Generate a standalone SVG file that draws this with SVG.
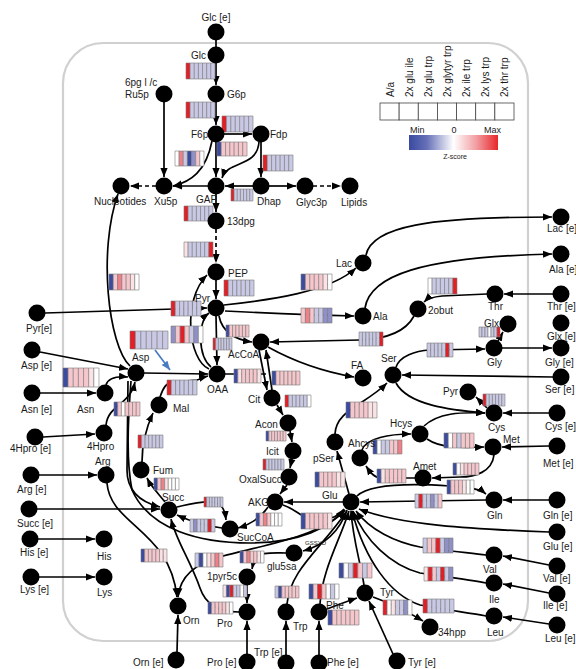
<svg xmlns="http://www.w3.org/2000/svg" width="576" height="669" viewBox="0 0 576 669">
<style>
text{font-family:"Liberation Sans",Arial,sans-serif;font-size:10px;fill:#1a1a1a}
.nd circle{fill:#000}
.cn path{fill:none;stroke:#000;stroke-width:1.7;marker-end:url(#ah)}
.cn path.na{marker-end:none}
.cn path.ds{stroke-dasharray:4 3}
.hm rect{stroke:#7a7a7a;stroke-width:0.6;vector-effect:non-scaling-stroke}
.r{fill:#e31e24}.b{fill:#3b4ba0}.l{fill:#c9c9e6}.p{fill:#f5c6cb}.w{fill:#fff}.m{fill:#9090c8}.q{fill:#fbe3e5}.d{fill:#ef8088}
</style>
<defs>
<marker id="ah" viewBox="0 0 10 8" refX="10" refY="4" markerWidth="9" markerHeight="7.5" orient="auto" markerUnits="userSpaceOnUse"><path d="M0,0 L10,4 L0,8 z" fill="#000"/></marker>
<marker id="ahb" viewBox="0 0 10 8" refX="10" refY="4" markerWidth="9" markerHeight="7.5" orient="auto" markerUnits="userSpaceOnUse"><path d="M0,0 L10,4 L0,8 z" fill="#4a7cc4"/></marker>
<linearGradient id="zg" x1="0" x2="1" y1="0" y2="0"><stop offset="0" stop-color="#3a4aa0"/><stop offset="0.2" stop-color="#6670b8"/><stop offset="0.5" stop-color="#ffffff"/><stop offset="0.75" stop-color="#f2a0a4"/><stop offset="1" stop-color="#e8262a"/></linearGradient>
</defs>
<rect id="membrane" x="63" y="43" width="465" height="598" rx="40" fill="none" stroke="#d0d0d0" stroke-width="2.2"/>

<g id="legend">
<g fill="#fff" stroke="#444" stroke-width="0.8">
<rect x="380" y="103" width="19.14" height="17"/><rect x="399.14" y="103" width="19.14" height="17"/><rect x="418.28" y="103" width="19.14" height="17"/><rect x="437.42" y="103" width="19.14" height="17"/><rect x="456.56" y="103" width="19.14" height="17"/><rect x="475.7" y="103" width="19.14" height="17"/><rect x="494.84" y="103" width="19.16" height="17"/>
</g>
<text transform="translate(393.5,97) rotate(-90)">A/a</text>
<text transform="translate(412.5,97) rotate(-90)">2x glu ile</text>
<text transform="translate(431.5,97) rotate(-90)">2x glu trp</text>
<text transform="translate(450.5,97) rotate(-90)">2x glytyr trp</text>
<text transform="translate(469.5,97) rotate(-90)">2x ile trp</text>
<text transform="translate(488.5,97) rotate(-90)">2x lys trp</text>
<text transform="translate(508,97) rotate(-90)">2x thr trp</text>
<rect x="409" y="135" width="89" height="15" fill="url(#zg)"/>
<text x="410" y="133" style="font-size:9px">Min</text>
<text x="454" y="133" text-anchor="middle" style="font-size:9px">0</text>
<text x="484" y="133" style="font-size:9px">Max</text>
<text x="455" y="159" text-anchor="middle" style="font-size:7px">Z-score</text>
</g>

<g id="connectors" class="cn">
<path class="na" d="M216,40 L216,47"/>
<path d="M216,63 L216,85"/>
<path d="M216,102 L216,125"/>
<path d="M164,102 L164,177"/>
<path d="M224,134 L252,134"/>
<path d="M216,142 L216,177"/>
<path d="M261,142 L261,177"/>
<path d="M253,186 L225,186"/>
<path d="M208,186 L173,186"/>
<path class="ds" d="M156,186 L130,186"/>
<path d="M269,186 L296,186"/>
<path class="ds" d="M313,186 L341,186"/>
<path d="M216,194 L216,212"/>
<path class="ds" d="M216,229 L216,263"/>
<path d="M216,280 L216,299"/>
<path d="M212,141 C206,172 190,182 173,186"/>
<path d="M259,142 C257,168 228,160 222,178"/>
<path d="M45,313 L207,308"/>
<path d="M224,305 C270,300 330,292 356,268"/>
<path d="M366,255 C372,226 430,217 552,217"/>
<path d="M225,311 C265,313 310,315 354,316"/>
<path d="M365,308 C370,276 420,257 552,254"/>
<path d="M553,294 L504,294"/>
<path d="M487,294 L442,296 C432,297 427,299 424,302"/>
<path d="M414,316 C405,333 385,339 360,340 L270,342"/>
<path d="M219,316 C222,332 236,340 252,342"/>
<path d="M216,316 L217,365"/>
<path d="M209,369 C188,360 182,300 207,275"/>
<path d="M211,367 C198,356 197,322 209,313"/>
<path d="M40,352 L128,369"/>
<path d="M40,393 L96,393"/>
<path d="M106,385 C108,378 116,376 128,377"/>
<path d="M43,437 L95,434"/>
<path d="M106,425 C108,405 130,405 135,382"/>
<path d="M144,373 L208,374"/>
<path d="M130,366 C108,345 98,250 118,194"/>
<path style="stroke:#4a7cc4;marker-end:url(#ahb)" d="M155,350 L170,370"/>
<path d="M128,381 L127,470 C127,490 140,502 160,507"/>
<path d="M131,381 C128,420 126,460 132,490 C150,530 200,543 250,543 C300,543 330,527 345,510"/>
<path d="M283,505 C292,508 296,512 303,516 L330,518 C337,517 341,513 344,509"/>
<path d="M39,475 L97,475"/>
<path d="M107,483 C110,525 170,530 177,597"/>
<path d="M37,509 L160,509"/>
<path d="M38,539 L95,539"/>
<path d="M39,577 L95,577"/>
<path d="M160,397 C163,388 166,383 172,382 L197,380 C201,379 204,377 208,376"/>
<path d="M142,462 C142,442 147,426 153,413"/>
<path d="M165,502 C157,492 151,486 147,478"/>
<path d="M177,507 C190,504 200,501 212,502 C222,503 225,510 226,520"/>
<path d="M222,528 C205,526 192,522 177,515"/>
<path d="M268,507 C262,516 252,524 238,528"/>
<path d="M343,502 L284,502"/>
<path d="M287,485 L280,494"/>
<path d="M292,459 L290,468"/>
<path d="M290,431 L292,442"/>
<path d="M277,405 L283,415"/>
<path d="M259,350 L267,390"/>
<path d="M272,390 L266,350"/>
<path class="na" d="M225,374 L266,374"/>
<path d="M268,347 C295,362 325,372 354,377"/>
<path d="M345,510 C320,537 260,546 223,556 C195,563 180,576 178,597"/>
<path d="M347,510 C340,530 325,545 303,551"/>
<path d="M286,553 C275,553 262,552 257,556 C254,560 253,564 252,569"/>
<path d="M247,585 L247,603"/>
<path d="M239,612 C218,612 205,603 200,588 C190,560 176,540 171,519"/>
<path d="M177,652 L178,615"/>
<path d="M247,654 L247,621"/>
<path d="M286,655 L286,621"/>
<path d="M319,655 L319,621"/>
<path d="M393,654 L369,601"/>
<path d="M327,609 C340,604 348,601 357,598"/>
<path d="M373,597 C390,603 405,610 423,621"/>
<path d="M287,604 C290,570 320,550 347,511"/>
<path d="M320,604 C322,570 340,540 349,511"/>
<path d="M364,585 C360,560 353,540 351,511"/>
<path d="M549,532 C470,529 400,525 359,509"/>
<path d="M486,555 C470,553 440,550 420,547 C395,542 370,530 356,511"/>
<path d="M486,583 C470,580 440,576 420,573 C390,565 365,540 353,511"/>
<path d="M486,616 C470,613 440,609 420,605 C390,595 365,560 352,511"/>
<path d="M549,565 L503,556"/>
<path d="M549,593 L503,584"/>
<path d="M549,624 L503,617"/>
<path d="M549,500 L503,500"/>
<path d="M486,500 L360,502"/>
<path d="M357,496 C372,482 420,484 450,486 C470,487 480,489 486,494"/>
<path d="M549,446 L502,447"/>
<path d="M494,455 C492,472 475,477 460,477 L432,478"/>
<path d="M415,478 L382,478 C374,478 370,472 366,466"/>
<path d="M362,450 C366,438 390,434 411,434"/>
<path d="M424,426 C438,413 460,412 485,413"/>
<path d="M427,439 C440,448 460,448 484,447"/>
<path d="M396,383 C408,405 450,410 485,413"/>
<path d="M549,413 L503,413"/>
<path d="M487,408 L476,397"/>
<path d="M553,377 L402,375"/>
<path d="M396,367 C400,356 415,351 430,350 L485,349"/>
<path d="M502,348 L552,348"/>
<path d="M498,341 L503,332"/>
<path d="M349,494 L337,451"/>
<path d="M335,434 C336,410 365,405 387,383"/>
</g>

<g id="heatmaps" class="hm">
<g transform="translate(186 63) scale(4.14 16)"><rect x="0" width="1" height="1" class="r"/><rect x="1" width="1" height="1" class="l"/><rect x="2" width="1" height="1" class="l"/><rect x="3" width="1" height="1" class="l"/><rect x="4" width="1" height="1" class="l"/><rect x="5" width="1" height="1" class="l"/><rect x="6" width="1" height="1" class="l"/></g>
<g transform="translate(186 102) scale(4.14 16)"><rect x="0" width="1" height="1" class="r"/><rect x="1" width="1" height="1" class="l"/><rect x="2" width="1" height="1" class="l"/><rect x="3" width="1" height="1" class="l"/><rect x="4" width="1" height="1" class="l"/><rect x="5" width="1" height="1" class="l"/><rect x="6" width="1" height="1" class="l"/></g>
<g transform="translate(222 116) scale(4.43 16)"><rect x="0" width="1" height="1" class="r"/><rect x="1" width="1" height="1" class="l"/><rect x="2" width="1" height="1" class="l"/><rect x="3" width="1" height="1" class="l"/><rect x="4" width="1" height="1" class="l"/><rect x="5" width="1" height="1" class="l"/><rect x="6" width="1" height="1" class="l"/></g>
<g transform="translate(217 142) scale(4.29 14)"><rect x="0" width="1" height="1" class="b"/><rect x="1" width="1" height="1" class="p"/><rect x="2" width="1" height="1" class="p"/><rect x="3" width="1" height="1" class="p"/><rect x="4" width="1" height="1" class="p"/><rect x="5" width="1" height="1" class="p"/><rect x="6" width="1" height="1" class="p"/></g>
<g transform="translate(175 151) scale(4.14 15)"><rect x="0" width="1" height="1" class="w"/><rect x="1" width="1" height="1" class="d"/><rect x="2" width="1" height="1" class="l"/><rect x="3" width="1" height="1" class="b"/><rect x="4" width="1" height="1" class="m"/><rect x="5" width="1" height="1" class="p"/><rect x="6" width="1" height="1" class="w"/></g>
<g transform="translate(263 155) scale(4.29 16)"><rect x="0" width="1" height="1" class="r"/><rect x="1" width="1" height="1" class="l"/><rect x="2" width="1" height="1" class="l"/><rect x="3" width="1" height="1" class="l"/><rect x="4" width="1" height="1" class="l"/><rect x="5" width="1" height="1" class="l"/><rect x="6" width="1" height="1" class="l"/></g>
<g transform="translate(231 189) scale(3.14 12)"><rect x="0" width="1" height="1" class="r"/><rect x="1" width="1" height="1" class="l"/><rect x="2" width="1" height="1" class="l"/><rect x="3" width="1" height="1" class="l"/><rect x="4" width="1" height="1" class="l"/><rect x="5" width="1" height="1" class="l"/><rect x="6" width="1" height="1" class="l"/></g>
<g transform="translate(184 206) scale(4.14 15)"><rect x="0" width="1" height="1" class="r"/><rect x="1" width="1" height="1" class="l"/><rect x="2" width="1" height="1" class="l"/><rect x="3" width="1" height="1" class="l"/><rect x="4" width="1" height="1" class="l"/><rect x="5" width="1" height="1" class="l"/><rect x="6" width="1" height="1" class="l"/></g>
<g transform="translate(184 242) scale(4.14 15)"><rect x="0" width="1" height="1" class="q"/><rect x="1" width="1" height="1" class="l"/><rect x="2" width="1" height="1" class="l"/><rect x="3" width="1" height="1" class="l"/><rect x="4" width="1" height="1" class="l"/><rect x="5" width="1" height="1" class="l"/><rect x="6" width="1" height="1" class="r"/></g>
<g transform="translate(224 280) scale(4.29 16)"><rect x="0" width="1" height="1" class="r"/><rect x="1" width="1" height="1" class="l"/><rect x="2" width="1" height="1" class="l"/><rect x="3" width="1" height="1" class="l"/><rect x="4" width="1" height="1" class="l"/><rect x="5" width="1" height="1" class="l"/><rect x="6" width="1" height="1" class="l"/></g>
<g transform="translate(109 274) scale(4.29 16)"><rect x="0" width="1" height="1" class="b"/><rect x="1" width="1" height="1" class="p"/><rect x="2" width="1" height="1" class="d"/><rect x="3" width="1" height="1" class="p"/><rect x="4" width="1" height="1" class="p"/><rect x="5" width="1" height="1" class="q"/><rect x="6" width="1" height="1" class="w"/></g>
<g transform="translate(301 274) scale(4.43 16)"><rect x="0" width="1" height="1" class="b"/><rect x="1" width="1" height="1" class="p"/><rect x="2" width="1" height="1" class="p"/><rect x="3" width="1" height="1" class="p"/><rect x="4" width="1" height="1" class="p"/><rect x="5" width="1" height="1" class="q"/><rect x="6" width="1" height="1" class="w"/></g>
<g transform="translate(171 301) scale(4.29 15)"><rect x="0" width="1" height="1" class="r"/><rect x="1" width="1" height="1" class="l"/><rect x="2" width="1" height="1" class="l"/><rect x="3" width="1" height="1" class="l"/><rect x="4" width="1" height="1" class="l"/><rect x="5" width="1" height="1" class="l"/><rect x="6" width="1" height="1" class="l"/></g>
<g transform="translate(171 326) scale(4.57 17)"><rect x="0" width="1" height="1" class="m"/><rect x="1" width="1" height="1" class="p"/><rect x="2" width="1" height="1" class="r"/><rect x="3" width="1" height="1" class="p"/><rect x="4" width="1" height="1" class="l"/><rect x="5" width="1" height="1" class="m"/><rect x="6" width="1" height="1" class="w"/></g>
<g transform="translate(226 325) scale(3.29 12)"><rect x="0" width="1" height="1" class="b"/><rect x="1" width="1" height="1" class="p"/><rect x="2" width="1" height="1" class="p"/><rect x="3" width="1" height="1" class="p"/><rect x="4" width="1" height="1" class="p"/><rect x="5" width="1" height="1" class="p"/><rect x="6" width="1" height="1" class="p"/></g>
<g transform="translate(213 338) scale(2.71 12)"><rect x="0" width="1" height="1" class="r"/><rect x="1" width="1" height="1" class="l"/><rect x="2" width="1" height="1" class="l"/><rect x="3" width="1" height="1" class="l"/><rect x="4" width="1" height="1" class="l"/><rect x="5" width="1" height="1" class="l"/><rect x="6" width="1" height="1" class="l"/></g>
<g transform="translate(130 331) scale(5.43 18)"><rect x="0" width="1" height="1" class="r"/><rect x="1" width="1" height="1" class="l"/><rect x="2" width="1" height="1" class="l"/><rect x="3" width="1" height="1" class="l"/><rect x="4" width="1" height="1" class="l"/><rect x="5" width="1" height="1" class="l"/><rect x="6" width="1" height="1" class="l"/></g>
<g transform="translate(63 368) scale(5.14 19)"><rect x="0" width="1" height="1" class="b"/><rect x="1" width="1" height="1" class="p"/><rect x="2" width="1" height="1" class="p"/><rect x="3" width="1" height="1" class="p"/><rect x="4" width="1" height="1" class="p"/><rect x="5" width="1" height="1" class="q"/><rect x="6" width="1" height="1" class="w"/></g>
<g transform="translate(114 402) scale(3.71 14)"><rect x="0" width="1" height="1" class="b"/><rect x="1" width="1" height="1" class="p"/><rect x="2" width="1" height="1" class="w"/><rect x="3" width="1" height="1" class="p"/><rect x="4" width="1" height="1" class="p"/><rect x="5" width="1" height="1" class="p"/><rect x="6" width="1" height="1" class="p"/></g>
<g transform="translate(234 369) scale(3.86 14)"><rect x="0" width="1" height="1" class="b"/><rect x="1" width="1" height="1" class="q"/><rect x="2" width="1" height="1" class="p"/><rect x="3" width="1" height="1" class="p"/><rect x="4" width="1" height="1" class="p"/><rect x="5" width="1" height="1" class="p"/><rect x="6" width="1" height="1" class="q"/></g>
<g transform="translate(272 371) scale(4 14)"><rect x="0" width="1" height="1" class="b"/><rect x="1" width="1" height="1" class="p"/><rect x="2" width="1" height="1" class="p"/><rect x="3" width="1" height="1" class="p"/><rect x="4" width="1" height="1" class="p"/><rect x="5" width="1" height="1" class="p"/><rect x="6" width="1" height="1" class="p"/></g>
<g transform="translate(167 380) scale(4.29 15)"><rect x="0" width="1" height="1" class="r"/><rect x="1" width="1" height="1" class="l"/><rect x="2" width="1" height="1" class="l"/><rect x="3" width="1" height="1" class="l"/><rect x="4" width="1" height="1" class="l"/><rect x="5" width="1" height="1" class="l"/><rect x="6" width="1" height="1" class="l"/></g>
<g transform="translate(138 435) scale(3.57 13)"><rect x="0" width="1" height="1" class="r"/><rect x="1" width="1" height="1" class="l"/><rect x="2" width="1" height="1" class="l"/><rect x="3" width="1" height="1" class="l"/><rect x="4" width="1" height="1" class="l"/><rect x="5" width="1" height="1" class="l"/><rect x="6" width="1" height="1" class="l"/></g>
<g transform="translate(285 395) scale(3.71 12)"><rect x="0" width="1" height="1" class="r"/><rect x="1" width="1" height="1" class="l"/><rect x="2" width="1" height="1" class="l"/><rect x="3" width="1" height="1" class="l"/><rect x="4" width="1" height="1" class="l"/><rect x="5" width="1" height="1" class="l"/><rect x="6" width="1" height="1" class="w"/></g>
<g transform="translate(266 431) scale(2.86 10)"><rect x="0" width="1" height="1" class="b"/><rect x="1" width="1" height="1" class="p"/><rect x="2" width="1" height="1" class="p"/><rect x="3" width="1" height="1" class="p"/><rect x="4" width="1" height="1" class="p"/><rect x="5" width="1" height="1" class="p"/><rect x="6" width="1" height="1" class="p"/></g>
<g transform="translate(263 459) scale(3 11)"><rect x="0" width="1" height="1" class="r"/><rect x="1" width="1" height="1" class="l"/><rect x="2" width="1" height="1" class="l"/><rect x="3" width="1" height="1" class="l"/><rect x="4" width="1" height="1" class="l"/><rect x="5" width="1" height="1" class="l"/><rect x="6" width="1" height="1" class="l"/></g>
<g transform="translate(154 478) scale(3.57 12)"><rect x="0" width="1" height="1" class="b"/><rect x="1" width="1" height="1" class="p"/><rect x="2" width="1" height="1" class="d"/><rect x="3" width="1" height="1" class="q"/><rect x="4" width="1" height="1" class="w"/><rect x="5" width="1" height="1" class="w"/><rect x="6" width="1" height="1" class="w"/></g>
<g transform="translate(204 497) scale(2.71 10)"><rect x="0" width="1" height="1" class="r"/><rect x="1" width="1" height="1" class="l"/><rect x="2" width="1" height="1" class="l"/><rect x="3" width="1" height="1" class="l"/><rect x="4" width="1" height="1" class="l"/><rect x="5" width="1" height="1" class="l"/><rect x="6" width="1" height="1" class="l"/></g>
<g transform="translate(190 519) scale(3.57 13)"><rect x="0" width="1" height="1" class="l"/><rect x="1" width="1" height="1" class="m"/><rect x="2" width="1" height="1" class="l"/><rect x="3" width="1" height="1" class="l"/><rect x="4" width="1" height="1" class="l"/><rect x="5" width="1" height="1" class="r"/><rect x="6" width="1" height="1" class="l"/></g>
<g transform="translate(256 513) scale(3.71 13)"><rect x="0" width="1" height="1" class="b"/><rect x="1" width="1" height="1" class="p"/><rect x="2" width="1" height="1" class="d"/><rect x="3" width="1" height="1" class="p"/><rect x="4" width="1" height="1" class="w"/><rect x="5" width="1" height="1" class="w"/><rect x="6" width="1" height="1" class="w"/></g>
<g transform="translate(301 513) scale(4.43 16)"><rect x="0" width="1" height="1" class="b"/><rect x="1" width="1" height="1" class="p"/><rect x="2" width="1" height="1" class="p"/><rect x="3" width="1" height="1" class="p"/><rect x="4" width="1" height="1" class="p"/><rect x="5" width="1" height="1" class="p"/><rect x="6" width="1" height="1" class="q"/></g>
<g transform="translate(141 549) scale(3.71 13)"><rect x="0" width="1" height="1" class="b"/><rect x="1" width="1" height="1" class="p"/><rect x="2" width="1" height="1" class="p"/><rect x="3" width="1" height="1" class="p"/><rect x="4" width="1" height="1" class="p"/><rect x="5" width="1" height="1" class="q"/><rect x="6" width="1" height="1" class="q"/></g>
<g transform="translate(195 553) scale(4 14)"><rect x="0" width="1" height="1" class="l"/><rect x="1" width="1" height="1" class="b"/><rect x="2" width="1" height="1" class="w"/><rect x="3" width="1" height="1" class="q"/><rect x="4" width="1" height="1" class="p"/><rect x="5" width="1" height="1" class="d"/><rect x="6" width="1" height="1" class="p"/></g>
<g transform="translate(240 551) scale(3.43 12)"><rect x="0" width="1" height="1" class="b"/><rect x="1" width="1" height="1" class="p"/><rect x="2" width="1" height="1" class="d"/><rect x="3" width="1" height="1" class="p"/><rect x="4" width="1" height="1" class="p"/><rect x="5" width="1" height="1" class="q"/><rect x="6" width="1" height="1" class="w"/></g>
<g transform="translate(223 585) scale(3.43 12)"><rect x="0" width="1" height="1" class="q"/><rect x="1" width="1" height="1" class="b"/><rect x="2" width="1" height="1" class="r"/><rect x="3" width="1" height="1" class="l"/><rect x="4" width="1" height="1" class="l"/><rect x="5" width="1" height="1" class="w"/><rect x="6" width="1" height="1" class="l"/></g>
<g transform="translate(208 602) scale(3.57 12)"><rect x="0" width="1" height="1" class="b"/><rect x="1" width="1" height="1" class="p"/><rect x="2" width="1" height="1" class="p"/><rect x="3" width="1" height="1" class="p"/><rect x="4" width="1" height="1" class="p"/><rect x="5" width="1" height="1" class="q"/><rect x="6" width="1" height="1" class="w"/></g>
<g transform="translate(275 586) scale(3.43 12)"><rect x="0" width="1" height="1" class="l"/><rect x="1" width="1" height="1" class="b"/><rect x="2" width="1" height="1" class="p"/><rect x="3" width="1" height="1" class="p"/><rect x="4" width="1" height="1" class="p"/><rect x="5" width="1" height="1" class="p"/><rect x="6" width="1" height="1" class="p"/></g>
<g transform="translate(309 584) scale(4.29 15)"><rect x="0" width="1" height="1" class="b"/><rect x="1" width="1" height="1" class="p"/><rect x="2" width="1" height="1" class="r"/><rect x="3" width="1" height="1" class="p"/><rect x="4" width="1" height="1" class="w"/><rect x="5" width="1" height="1" class="l"/><rect x="6" width="1" height="1" class="w"/></g>
<g transform="translate(328 610) scale(4.43 15)"><rect x="0" width="1" height="1" class="b"/><rect x="1" width="1" height="1" class="p"/><rect x="2" width="1" height="1" class="p"/><rect x="3" width="1" height="1" class="p"/><rect x="4" width="1" height="1" class="p"/><rect x="5" width="1" height="1" class="p"/><rect x="6" width="1" height="1" class="p"/></g>
<g transform="translate(339 563) scale(4.71 15)"><rect x="0" width="1" height="1" class="b"/><rect x="1" width="1" height="1" class="w"/><rect x="2" width="1" height="1" class="l"/><rect x="3" width="1" height="1" class="r"/><rect x="4" width="1" height="1" class="p"/><rect x="5" width="1" height="1" class="l"/><rect x="6" width="1" height="1" class="p"/></g>
<g transform="translate(383 600) scale(4.14 15)"><rect x="0" width="1" height="1" class="r"/><rect x="1" width="1" height="1" class="w"/><rect x="2" width="1" height="1" class="q"/><rect x="3" width="1" height="1" class="l"/><rect x="4" width="1" height="1" class="l"/><rect x="5" width="1" height="1" class="m"/><rect x="6" width="1" height="1" class="w"/></g>
<g transform="translate(423 538) scale(4.29 15)"><rect x="0" width="1" height="1" class="l"/><rect x="1" width="1" height="1" class="p"/><rect x="2" width="1" height="1" class="p"/><rect x="3" width="1" height="1" class="r"/><rect x="4" width="1" height="1" class="l"/><rect x="5" width="1" height="1" class="m"/><rect x="6" width="1" height="1" class="m"/></g>
<g transform="translate(424 567) scale(4.14 14)"><rect x="0" width="1" height="1" class="q"/><rect x="1" width="1" height="1" class="r"/><rect x="2" width="1" height="1" class="p"/><rect x="3" width="1" height="1" class="l"/><rect x="4" width="1" height="1" class="r"/><rect x="5" width="1" height="1" class="l"/><rect x="6" width="1" height="1" class="m"/></g>
<g transform="translate(423 599) scale(4.43 14)"><rect x="0" width="1" height="1" class="r"/><rect x="1" width="1" height="1" class="l"/><rect x="2" width="1" height="1" class="l"/><rect x="3" width="1" height="1" class="l"/><rect x="4" width="1" height="1" class="l"/><rect x="5" width="1" height="1" class="l"/><rect x="6" width="1" height="1" class="l"/></g>
<g transform="translate(315 472) scale(4.29 15)"><rect x="0" width="1" height="1" class="b"/><rect x="1" width="1" height="1" class="p"/><rect x="2" width="1" height="1" class="p"/><rect x="3" width="1" height="1" class="p"/><rect x="4" width="1" height="1" class="p"/><rect x="5" width="1" height="1" class="q"/><rect x="6" width="1" height="1" class="q"/></g>
<g transform="translate(377 469) scale(4.14 14)"><rect x="0" width="1" height="1" class="b"/><rect x="1" width="1" height="1" class="q"/><rect x="2" width="1" height="1" class="p"/><rect x="3" width="1" height="1" class="p"/><rect x="4" width="1" height="1" class="p"/><rect x="5" width="1" height="1" class="p"/><rect x="6" width="1" height="1" class="p"/></g>
<g transform="translate(453 463) scale(3.71 12)"><rect x="0" width="1" height="1" class="b"/><rect x="1" width="1" height="1" class="w"/><rect x="2" width="1" height="1" class="q"/><rect x="3" width="1" height="1" class="p"/><rect x="4" width="1" height="1" class="p"/><rect x="5" width="1" height="1" class="p"/><rect x="6" width="1" height="1" class="p"/></g>
<g transform="translate(447 480) scale(3.86 14)"><rect x="0" width="1" height="1" class="b"/><rect x="1" width="1" height="1" class="p"/><rect x="2" width="1" height="1" class="p"/><rect x="3" width="1" height="1" class="p"/><rect x="4" width="1" height="1" class="q"/><rect x="5" width="1" height="1" class="w"/><rect x="6" width="1" height="1" class="w"/></g>
<g transform="translate(415 494) scale(3.86 14)"><rect x="0" width="1" height="1" class="l"/><rect x="1" width="1" height="1" class="r"/><rect x="2" width="1" height="1" class="l"/><rect x="3" width="1" height="1" class="l"/><rect x="4" width="1" height="1" class="m"/><rect x="5" width="1" height="1" class="l"/><rect x="6" width="1" height="1" class="p"/></g>
<g transform="translate(444 433) scale(4.29 15)"><rect x="0" width="1" height="1" class="b"/><rect x="1" width="1" height="1" class="w"/><rect x="2" width="1" height="1" class="p"/><rect x="3" width="1" height="1" class="l"/><rect x="4" width="1" height="1" class="p"/><rect x="5" width="1" height="1" class="p"/><rect x="6" width="1" height="1" class="p"/></g>
<g transform="translate(373 440) scale(4.14 14)"><rect x="0" width="1" height="1" class="b"/><rect x="1" width="1" height="1" class="w"/><rect x="2" width="1" height="1" class="l"/><rect x="3" width="1" height="1" class="l"/><rect x="4" width="1" height="1" class="p"/><rect x="5" width="1" height="1" class="p"/><rect x="6" width="1" height="1" class="d"/></g>
<g transform="translate(483 394) scale(3.14 12)"><rect x="0" width="1" height="1" class="r"/><rect x="1" width="1" height="1" class="l"/><rect x="2" width="1" height="1" class="l"/><rect x="3" width="1" height="1" class="l"/><rect x="4" width="1" height="1" class="l"/><rect x="5" width="1" height="1" class="l"/><rect x="6" width="1" height="1" class="l"/></g>
<g transform="translate(346 402) scale(4.43 16)"><rect x="0" width="1" height="1" class="b"/><rect x="1" width="1" height="1" class="p"/><rect x="2" width="1" height="1" class="p"/><rect x="3" width="1" height="1" class="p"/><rect x="4" width="1" height="1" class="p"/><rect x="5" width="1" height="1" class="q"/><rect x="6" width="1" height="1" class="q"/></g>
<g transform="translate(427 343) scale(3.71 14)"><rect x="0" width="1" height="1" class="l"/><rect x="1" width="1" height="1" class="l"/><rect x="2" width="1" height="1" class="l"/><rect x="3" width="1" height="1" class="l"/><rect x="4" width="1" height="1" class="l"/><rect x="5" width="1" height="1" class="r"/><rect x="6" width="1" height="1" class="l"/></g>
<g transform="translate(479 327) scale(3 10)"><rect x="0" width="1" height="1" class="l"/><rect x="1" width="1" height="1" class="l"/><rect x="2" width="1" height="1" class="l"/><rect x="3" width="1" height="1" class="w"/><rect x="4" width="1" height="1" class="l"/><rect x="5" width="1" height="1" class="l"/><rect x="6" width="1" height="1" class="r"/></g>
<g transform="translate(428 278) scale(4.14 16)"><rect x="0" width="1" height="1" class="w"/><rect x="1" width="1" height="1" class="l"/><rect x="2" width="1" height="1" class="l"/><rect x="3" width="1" height="1" class="l"/><rect x="4" width="1" height="1" class="l"/><rect x="5" width="1" height="1" class="l"/><rect x="6" width="1" height="1" class="r"/></g>
<g transform="translate(359 332) scale(3.43 14)"><rect x="0" width="1" height="1" class="l"/><rect x="1" width="1" height="1" class="l"/><rect x="2" width="1" height="1" class="l"/><rect x="3" width="1" height="1" class="l"/><rect x="4" width="1" height="1" class="l"/><rect x="5" width="1" height="1" class="l"/><rect x="6" width="1" height="1" class="r"/></g>
<g transform="translate(301 308) scale(4.43 15)"><rect x="0" width="1" height="1" class="p"/><rect x="1" width="1" height="1" class="d"/><rect x="2" width="1" height="1" class="p"/><rect x="3" width="1" height="1" class="l"/><rect x="4" width="1" height="1" class="l"/><rect x="5" width="1" height="1" class="m"/><rect x="6" width="1" height="1" class="m"/></g>
</g>

<g id="nodes" class="nd">
<g id="n-glc-e"><circle cx="216" cy="32" r="8.5"/><text x="216" y="21" text-anchor="middle">Glc [e]</text></g>
<g id="n-glc"><circle cx="216" cy="55" r="8.5"/><text x="191" y="59">Glc</text></g>
<g id="n-g6p"><circle cx="216" cy="94" r="8.5"/><text x="227" y="98">G6p</text></g>
<g id="n-ru5p"><circle cx="164" cy="94" r="8.5"/><text x="125" y="86">6pg l /c</text><text x="125" y="98">Ru5p</text></g>
<g id="n-f6p"><circle cx="216" cy="134" r="8.5"/><text x="191" y="138">F6p</text></g>
<g id="n-fdp"><circle cx="261" cy="134" r="8.5"/><text x="270" y="138">Fdp</text></g>
<g id="n-nuc"><circle cx="121" cy="186" r="8.5"/><text x="94" y="205">Nucleotides</text></g>
<g id="n-xu5p"><circle cx="164" cy="186" r="8.5"/><text x="154" y="205">Xu5p</text></g>
<g id="n-gap"><circle cx="216" cy="186" r="8.5"/><text x="196" y="203">GAP</text></g>
<g id="n-dhap"><circle cx="261" cy="186" r="8.5"/><text x="257" y="205">Dhap</text></g>
<g id="n-glyc3p"><circle cx="305" cy="186" r="8.5"/><text x="296" y="206">Glyc3p</text></g>
<g id="n-lipids"><circle cx="350" cy="186" r="8.5"/><text x="341" y="206">Lipids</text></g>
<g id="n-13dpg"><circle cx="216" cy="221" r="8.5"/><text x="227" y="225">13dpg</text></g>
<g id="n-pep"><circle cx="216" cy="272" r="8.5"/><text x="228" y="277">PEP</text></g>
<g id="n-pyr"><circle cx="216" cy="308" r="8.5"/><text x="195" y="302">Pyr</text></g>
<g id="n-lac"><circle cx="363" cy="263" r="8.5"/><text x="336" y="267">Lac</text></g>
<g id="n-lac-e"><circle cx="561" cy="217" r="8.5"/><text x="547" y="232">Lac [e]</text></g>
<g id="n-ala"><circle cx="363" cy="316" r="8.5"/><text x="373" y="320">Ala</text></g>
<g id="n-ala-e"><circle cx="561" cy="254" r="8.5"/><text x="549" y="273">Ala [e]</text></g>
<g id="n-2obut"><circle cx="418" cy="309" r="8.5"/><text x="428" y="314">2obut</text></g>
<g id="n-thr"><circle cx="495" cy="294" r="8.5"/><text x="488" y="310">Thr</text></g>
<g id="n-thr-e"><circle cx="561" cy="294" r="8.5"/><text x="547" y="310">Thr [e]</text></g>
<g id="n-glx"><circle cx="508" cy="324" r="8.5"/><text x="484" y="327">Glx</text></g>
<g id="n-glx-e"><circle cx="561" cy="323" r="8.5"/><text x="547" y="340">Glx [e]</text></g>
<g id="n-gly"><circle cx="494" cy="348" r="8.5"/><text x="487" y="366">Gly</text></g>
<g id="n-gly-e"><circle cx="561" cy="348" r="8.5"/><text x="545" y="366">Gly [e]</text></g>
<g id="n-fa"><circle cx="363" cy="378" r="8.5"/><text x="351" y="369">FA</text></g>
<g id="n-ser"><circle cx="393" cy="375" r="8.5"/><text x="381" y="362">Ser</text></g>
<g id="n-ser-e"><circle cx="561" cy="377" r="8.5"/><text x="545" y="393">Ser [e]</text></g>
<g id="n-pyr2"><circle cx="468" cy="392" r="8.5"/><text x="443" y="395">Pyr</text></g>
<g id="n-cys"><circle cx="494" cy="413" r="8.5"/><text x="488" y="431">Cys</text></g>
<g id="n-cys-e"><circle cx="557" cy="413" r="8.5"/><text x="545" y="430">Cys [e]</text></g>
<g id="n-acoa"><circle cx="261" cy="342" r="8.5"/><text x="228" y="358">AcCoA</text></g>
<g id="n-oaa"><circle cx="217" cy="374" r="8.5"/><text x="207" y="393">OAA</text></g>
<g id="n-asp"><circle cx="136" cy="373" r="8.5"/><text x="132" y="361">Asp</text></g>
<g id="n-asp-e"><circle cx="32" cy="350" r="8.5"/><text x="21" y="369">Asp [e]</text></g>
<g id="n-pyr-e"><circle cx="37" cy="313" r="8.5"/><text x="26" y="332">Pyr[e]</text></g>
<g id="n-asn"><circle cx="105" cy="393" r="8.5"/><text x="77" y="413">Asn</text></g>
<g id="n-asn-e"><circle cx="32" cy="393" r="8.5"/><text x="21" y="413">Asn [e]</text></g>
<g id="n-4hpro"><circle cx="104" cy="433" r="8.5"/><text x="87" y="450">4Hpro</text></g>
<g id="n-4hpro-e"><circle cx="35" cy="437" r="8.5"/><text x="10" y="452">4Hpro [e]</text></g>
<g id="n-arg"><circle cx="106" cy="475" r="8.5"/><text x="95" y="465">Arg</text></g>
<g id="n-arg-e"><circle cx="31" cy="475" r="8.5"/><text x="17" y="493">Arg [e]</text></g>
<g id="n-succ-e"><circle cx="29" cy="509" r="8.5"/><text x="17" y="527">Succ [e]</text></g>
<g id="n-his"><circle cx="104" cy="539" r="8.5"/><text x="97" y="560">His</text></g>
<g id="n-his-e"><circle cx="30" cy="539" r="8.5"/><text x="20" y="556">His [e]</text></g>
<g id="n-lys"><circle cx="104" cy="577" r="8.5"/><text x="97" y="596">Lys</text></g>
<g id="n-lys-e"><circle cx="31" cy="577" r="8.5"/><text x="20" y="593">Lys [e]</text></g>
<g id="n-mal"><circle cx="159" cy="405" r="8.5"/><text x="173" y="412">Mal</text></g>
<g id="n-fum"><circle cx="141" cy="470" r="8.5"/><text x="153" y="474">Fum</text></g>
<g id="n-succ"><circle cx="169" cy="510" r="8.5"/><text x="162" y="501">Succ</text></g>
<g id="n-succoa"><circle cx="230" cy="529" r="8.5"/><text x="237" y="541">SucCoA</text></g>
<g id="n-cit"><circle cx="272" cy="398" r="8.5"/><text x="248" y="403">Cit</text></g>
<g id="n-acon"><circle cx="288" cy="423" r="8.5"/><text x="255" y="428">Acon</text></g>
<g id="n-icit"><circle cx="293" cy="451" r="8.5"/><text x="266" y="455">Icit</text></g>
<g id="n-oxalsucc"><circle cx="289" cy="477" r="8.5"/><text x="239" y="483">OxalSucc</text></g>
<g id="n-akg"><circle cx="275" cy="502" r="8.5"/><text x="248" y="506">AKG</text></g>
<g id="n-glu"><circle cx="351" cy="502" r="8.5"/><text x="322" y="499">Glu</text></g>
<g id="n-pser"><circle cx="335" cy="442" r="8.5"/><text x="313" y="462">pSer</text></g>
<g id="n-ahcys"><circle cx="360" cy="458" r="8.5"/><text x="348" y="447">Ahcys</text></g>
<g id="n-hcys"><circle cx="420" cy="434" r="8.5"/><text x="390" y="427">Hcys</text></g>
<g id="n-met"><circle cx="493" cy="447" r="8.5"/><text x="503" y="443">Met</text></g>
<g id="n-met-e"><circle cx="557" cy="446" r="8.5"/><text x="543" y="467">Met [e]</text></g>
<g id="n-amet"><circle cx="423" cy="478" r="8.5"/><text x="413" y="470">Amet</text></g>
<g id="n-gln"><circle cx="494" cy="500" r="8.5"/><text x="487" y="519">Gln</text></g>
<g id="n-gln-e"><circle cx="557" cy="500" r="8.5"/><text x="543" y="519">Gln [e]</text></g>
<g id="n-glu-e"><circle cx="557" cy="532" r="8.5"/><text x="543" y="550">Glu [e]</text></g>
<g id="n-val"><circle cx="494" cy="555" r="8.5"/><text x="483" y="573">Val</text></g>
<g id="n-val-e"><circle cx="557" cy="566" r="8.5"/><text x="543" y="582">Val [e]</text></g>
<g id="n-ile"><circle cx="494" cy="583" r="8.5"/><text x="489" y="603">Ile</text></g>
<g id="n-ile-e"><circle cx="557" cy="594" r="8.5"/><text x="543" y="609">Ile [e]</text></g>
<g id="n-leu"><circle cx="494" cy="616" r="8.5"/><text x="487" y="636">Leu</text></g>
<g id="n-leu-e"><circle cx="557" cy="625" r="8.5"/><text x="545" y="642">Leu [e]</text></g>
<g id="n-tyr"><circle cx="365" cy="593" r="8.5"/><text x="380" y="596">Tyr</text></g>
<g id="n-34hpp"><circle cx="430" cy="627" r="8.5"/><text x="438" y="636">34hpp</text></g>
<g id="n-phe"><circle cx="319" cy="612" r="8.5"/><text x="326" y="609">Phe</text></g>
<g id="n-trp"><circle cx="286" cy="612" r="8.5"/><text x="293" y="630">Trp</text></g>
<g id="n-pro"><circle cx="247" cy="612" r="8.5"/><text x="217" y="627">Pro</text></g>
<g id="n-1pyr5c"><circle cx="247" cy="577" r="8.5"/><text x="207" y="580">1pyr5c</text></g>
<g id="n-glu5sa"><circle cx="294" cy="553" r="8.5"/><text x="267" y="570">glu5sa</text><text x="305" y="545" style="font-size:6px">GSSYD</text></g>
<g id="n-orn"><circle cx="178" cy="606" r="8.5"/><text x="183" y="624">Orn</text></g>
<g id="n-orn-e"><circle cx="176" cy="660" r="8.5"/><text x="133" y="666">Orn [e]</text></g>
<g id="n-pro-e"><circle cx="247" cy="662" r="8.5"/><text x="207" y="666">Pro [e]</text></g>
<g id="n-trp-e"><circle cx="286" cy="663" r="8.5"/><text x="254" y="656">Trp [e]</text></g>
<g id="n-phe-e"><circle cx="319" cy="663" r="8.5"/><text x="327" y="666">Phe [e]</text></g>
<g id="n-tyr-e"><circle cx="397" cy="661" r="8.5"/><text x="408" y="666">Tyr [e]</text></g>
</g>
</svg>
